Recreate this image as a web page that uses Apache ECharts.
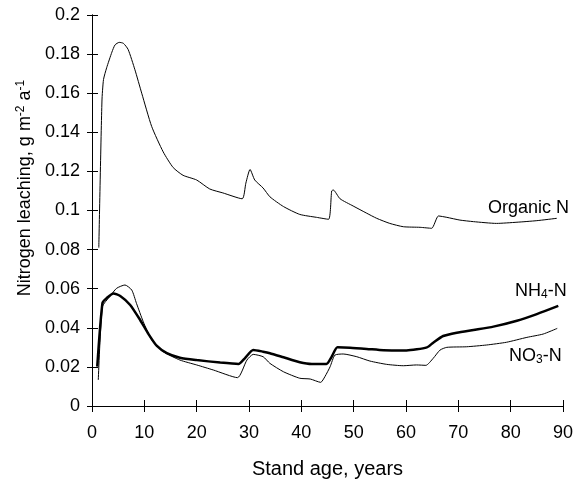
<!DOCTYPE html>
<html>
<head>
<meta charset="utf-8">
<script src="https://cdn.jsdelivr.net/npm/echarts@6/dist/echarts.min.js"></script>
<style>
  html, body { margin: 0; padding: 0; background: #fff; }
  #chart { width: 577px; height: 487px; }
</style>
</head>
<body>
<div id="chart"></div>
<script>
// Organic N leaching by stand age
const organicYears = [1.3, 1.9, 2.2, 2.8, 3.8, 4.4, 5.2, 6.0, 6.9, 8.2, 9.5, 11.4, 13.6, 15.5, 17.4, 20, 22.5, 25, 28.7, 29.4, 30.2, 31.1, 32.7, 34, 36.6, 39.7, 42.9, 45.2, 45.8, 46.1, 47.4, 49.9, 52.5, 54.4, 56.9, 59.5, 62.7, 64.9, 66.2, 67.8, 70.3, 72.9, 77.3, 81.2, 85, 88.8];
const organicValues = [0.081, 0.156, 0.167, 0.173, 0.181, 0.1847, 0.186, 0.1855, 0.1824, 0.172, 0.160, 0.143, 0.130, 0.122, 0.118, 0.1156, 0.111, 0.109, 0.106, 0.114, 0.121, 0.1156, 0.1115, 0.107, 0.102, 0.098, 0.0965, 0.0955, 0.110, 0.1105, 0.106, 0.1023, 0.0986, 0.096, 0.0934, 0.0917, 0.0914, 0.0909, 0.0972, 0.0965, 0.0951, 0.0943, 0.0934, 0.094, 0.0948, 0.096];

// NH4-N leaching
const nh4Years = [1.0, 2.0, 2.8, 4.1, 5.4, 7.3, 9.2, 10.8, 12.4, 14.3, 16.8, 20, 24.5, 28, 29.2, 30.8, 32.7, 34, 36.6, 39.7, 42, 44.8, 45.8, 46.9, 49.3, 52.5, 55.7, 60.1, 64, 65.2, 67.1, 69.7, 72.9, 76.7, 81.2, 85, 89.1];
const nh4Values = [0.0201, 0.0527, 0.0552, 0.0576, 0.0563, 0.0517, 0.044, 0.0368, 0.0307, 0.027, 0.0247, 0.0235, 0.0222, 0.0215, 0.0244, 0.0287, 0.0278, 0.027, 0.0249, 0.0224, 0.0215, 0.0215, 0.0252, 0.030, 0.0298, 0.0292, 0.0285, 0.0284, 0.030, 0.0324, 0.0358, 0.0375, 0.0389, 0.0406, 0.0436, 0.047, 0.0512];

// NO3-N leaching
const no3Years = [1.2, 2.0, 3.4, 4.7, 6.3, 7.6, 8.5, 9.8, 11.4, 13.6, 16.8, 20, 23.2, 27.8, 29.6, 30.8, 32.7, 34, 36.6, 39.7, 41.7, 43.7, 44.5, 45.5, 46.4, 48, 50.6, 53.1, 56.3, 59.5, 62, 63.8, 65.2, 66.5, 67.8, 71.6, 75.4, 79.2, 83.1, 86.2, 88.9];
const no3Values = [0.0133, 0.0508, 0.056, 0.0602, 0.0619, 0.0593, 0.0525, 0.0431, 0.0338, 0.0278, 0.0235, 0.021, 0.0184, 0.0145, 0.0235, 0.0264, 0.0252, 0.0218, 0.0175, 0.0142, 0.0138, 0.0121, 0.015, 0.0201, 0.026, 0.0266, 0.0252, 0.023, 0.0213, 0.0206, 0.021, 0.0208, 0.0244, 0.0286, 0.030, 0.0303, 0.0312, 0.0326, 0.0351, 0.0368, 0.0397];

const xTicks = { min: 0, max: 90, interval: 10 };
const yTicks = { min: 0, max: 0.2, interval: 0.02 };

const pairs = (xs, ys) => xs.map((x, i) => [x, ys[i]]);

const FONT = 'Liberation Sans, Arial, sans-serif';
const axisCommon = {
  axisLine: { show: true, lineStyle: { color: '#000', width: 1 } },
  splitLine: { show: false }
};

const chart = echarts.init(document.getElementById('chart'));
chart.setOption({
  backgroundColor: '#fff',
  animation: false,
  grid: { left: 92, right: 14, top: 15, bottom: 81, containLabel: false },
  xAxis: [
    Object.assign({}, axisCommon, {
      type: 'value', min: xTicks.min, max: xTicks.max, interval: xTicks.interval,
      axisTick: { show: true, length: 6, lineStyle: { color: '#000' } },
      axisLabel: { color: '#000', fontSize: 18, fontFamily: FONT, margin: 18 },
      name: 'Stand age, years', nameLocation: 'middle', nameGap: 53,
      nameTextStyle: { color: '#000', fontSize: 20, fontFamily: FONT }
    }),
    Object.assign({}, axisCommon, {
      type: 'value', min: xTicks.min, max: xTicks.max, interval: xTicks.interval,
      position: 'bottom', axisTick: { show: true, inside: true, length: 6, lineStyle: { color: '#000' } },
      axisLabel: { show: false }
    })
  ],
  yAxis: [
    Object.assign({}, axisCommon, {
      type: 'value', min: yTicks.min, max: yTicks.max, interval: yTicks.interval,
      axisTick: { show: true, length: 5, lineStyle: { color: '#000' } },
      axisLabel: { color: '#000', fontSize: 18, fontFamily: FONT, margin: 12 }
    }),
    Object.assign({}, axisCommon, {
      type: 'value', min: yTicks.min, max: yTicks.max, interval: yTicks.interval,
      position: 'left', axisTick: { show: true, inside: true, length: 6, lineStyle: { color: '#000' } },
      axisLabel: { show: false }
    })
  ],
  graphic: [
    {
      type: 'text', x: 25, y: 188, rotation: Math.PI / 2,
      style: {
        text: 'Nitrogen leaching, g m{sup|-2} a{sup|-1}',
        font: '18px ' + FONT, fill: '#000', align: 'center', verticalAlign: 'middle',
        rich: { sup: { fontSize: 12, fontFamily: FONT, verticalAlign: 'top', lineHeight: 20, fill: '#000' } }
      }
    },
    {
      type: 'text', left: 488, top: 199,
      style: { text: 'Organic N', font: '18px ' + FONT, fill: '#000' }
    },
    {
      type: 'text', left: 515, top: 282,
      style: {
        text: 'NH{sub|4}-N', font: '18px ' + FONT, fill: '#000',
        rich: { sub: { fontSize: 12, fontFamily: FONT, verticalAlign: 'bottom', lineHeight: 20, fill: '#000' } }
      }
    },
    {
      type: 'text', left: 509, top: 347,
      style: {
        text: 'NO{sub|3}-N', font: '18px ' + FONT, fill: '#000',
        rich: { sub: { fontSize: 12, fontFamily: FONT, verticalAlign: 'bottom', lineHeight: 20, fill: '#000' } }
      }
    }
  ],
  series: [
    {
      name: 'Organic N', type: 'line', data: pairs(organicYears, organicValues),
      showSymbol: false, smooth: 0.2, lineStyle: { color: '#000', width: 1 }
    },
    {
      name: 'NO3-N', type: 'line', data: pairs(no3Years, no3Values),
      showSymbol: false, smooth: 0.2, lineStyle: { color: '#000', width: 1 }
    },
    {
      name: 'NH4-N', type: 'line', data: pairs(nh4Years, nh4Values),
      showSymbol: false, smooth: 0.2, lineStyle: { color: '#000', width: 2.5 }
    }
  ]
});
</script>
</body>
</html>
